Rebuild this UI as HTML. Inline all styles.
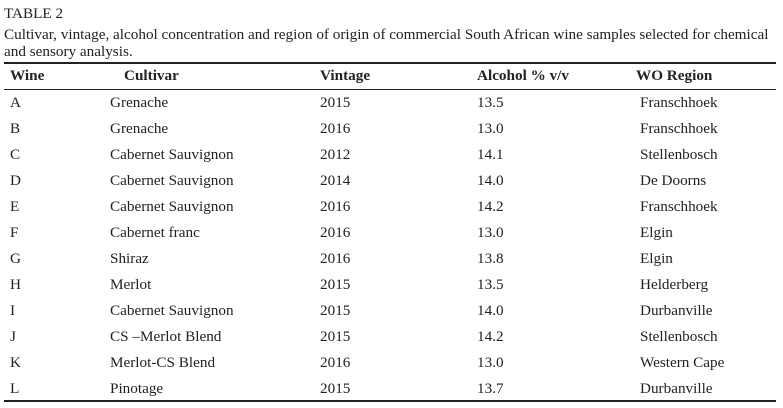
<!DOCTYPE html>
<html><head><meta charset="utf-8"><style>
body{margin:0;width:783px;height:408px;background:#fff;font-family:"Liberation Serif",serif;color:#222;position:relative;overflow:hidden}
.t{position:absolute;font-size:15.2px;white-space:nowrap;line-height:17px}
.h{font-weight:bold}
.line{position:absolute;left:4px;width:772px;background:#222}
</style></head><body>
<div class="t" style="left:4px;top:5px">TABLE 2</div>
<div class="t" style="left:4px;top:26px">Cultivar, vintage, alcohol concentration and region of origin of commercial South African wine samples selected for chemical</div>
<div class="t" style="left:4px;top:43px">and sensory analysis.</div>
<div class="line" style="top:62px;height:2px"></div>
<div class="line" style="top:89px;height:1px"></div>
<div class="line" style="top:400px;height:2px"></div>
<div id="tbl"></div>
<script>
const headers=["Wine","Cultivar","Vintage","Alcohol % v/v","WO Region"];
const headerX=[10,124,320,477,636];
const colX=[10,110,320,477,640];
const wines=["A","B","C","D","E","F","G","H","I","J","K","L"];
const cultivars=["Grenache","Grenache","Cabernet Sauvignon","Cabernet Sauvignon","Cabernet Sauvignon","Cabernet franc","Shiraz","Merlot","Cabernet Sauvignon","CS \u2013Merlot Blend","Merlot-CS Blend","Pinotage"];
const vintages=["2015","2016","2012","2014","2016","2016","2016","2015","2015","2015","2016","2015"];
const alcohol=["13.5","13.0","14.1","14.0","14.2","13.0","13.8","13.5","14.0","14.2","13.0","13.7"];
const regions=["Franschhoek","Franschhoek","Stellenbosch","De Doorns","Franschhoek","Elgin","Elgin","Helderberg","Durbanville","Stellenbosch","Western Cape","Durbanville"];
const tbl=document.getElementById('tbl');
headers.forEach((h,i)=>{
  const d=document.createElement('div');
  d.className='t h';d.style.left=headerX[i]+'px';d.style.top='67px';d.textContent=h;
  
  
  tbl.appendChild(d);
});
const cols=[wines,cultivars,vintages,alcohol,regions];
wines.forEach((w,r)=>{
  cols.forEach((c,i)=>{
    const d=document.createElement('div');
    d.className='t';d.style.left=colX[i]+'px';d.style.top=(94+r*26)+'px';d.textContent=c[r];
    
    
    tbl.appendChild(d);
  });
});
</script>
</body></html>
